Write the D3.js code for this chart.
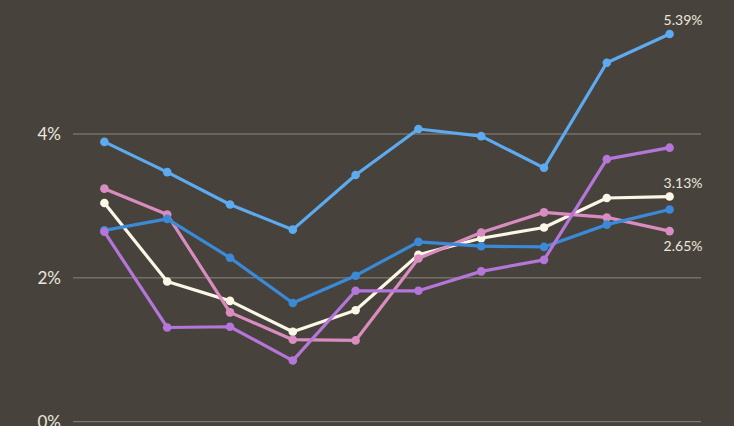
<!DOCTYPE html>
<html><head><meta charset="utf-8">
<script src="https://cdn.jsdelivr.net/npm/d3@7"></script>
<style>
html,body{margin:0;padding:0;background:#47433c;}
svg{display:block;}
</style></head>
<body>
<svg id="chart" width="734" height="426"></svg>
<script>
const periods = ["P1","P2","P3","P4","P5","P6","P7","P8","P9","P10"];
const yTicks = [0, 2, 4];
const lightBlue = [3.89, 3.47, 3.02, 2.67, 3.43, 4.07, 3.97, 3.53, 4.99, 5.39];
const pink      = [3.24, 2.88, 1.52, 1.14, 1.13, 2.27, 2.63, 2.91, 2.84, 2.65];
const cream     = [3.04, 1.95, 1.68, 1.25, 1.55, 2.32, 2.55, 2.70, 3.11, 3.13];
const midBlue   = [2.66, 2.82, 2.28, 1.65, 2.03, 2.50, 2.44, 2.43, 2.74, 2.95];
const purple    = [2.64, 1.31, 1.32, 0.85, 1.82, 1.82, 2.09, 2.25, 3.65, 3.81];

const series = [
  {name:"cream", values: cream, color:"#fbf6e6", label:"3.13%", pos:"above"},
  {name:"pink", values: pink, color:"#d98cc0", label:"2.65%", pos:"below"},
  {name:"midBlue", values: midBlue, color:"#3a8ad8", label:null},
  {name:"purple", values: purple, color:"#b476d9", label:null},
  {name:"lightBlue", values: lightBlue, color:"#5daaf0", label:"5.39%", pos:"above"}
];

const svg = d3.select("#chart");
const x = d3.scalePoint().domain(periods).range([73, 701]).padding(0.5);
const y = d3.scaleLinear().domain([0, 4]).range([421.7, 134]);

svg.append("g").selectAll("line").data(yTicks).join("line")
  .attr("x1", 73).attr("x2", 701)
  .attr("y1", d => y(d)).attr("y2", d => y(d))
  .attr("stroke", "#8a8680").attr("stroke-width", 1);

svg.append("g").selectAll("text").data(yTicks).join("text")
  .attr("x", 61).attr("y", d => y(d) + 6)
  .attr("text-anchor", "end")
  .attr("font-family", "Lato, 'Open Sans', sans-serif")
  .attr("font-size", 17)
  .attr("fill", "#ebe7df")
  .text(d => d + "%");

const line = d3.line().x((d, i) => x(periods[i])).y(d => y(d));

series.forEach(s => {
  const g = svg.append("g");
  g.append("path").attr("d", line(s.values))
    .attr("fill", "none").attr("stroke", s.color)
    .attr("stroke-width", 3.2).attr("stroke-linejoin", "round");
  g.selectAll("circle").data(s.values).join("circle")
    .attr("cx", (d, i) => x(periods[i])).attr("cy", d => y(d))
    .attr("r", 4.3).attr("fill", s.color);
});

series.filter(s => s.label).forEach(s => {
  const last = s.values[s.values.length - 1];
  const px = x(periods[periods.length - 1]);
  const py = y(last);
  svg.append("text")
    .attr("x", px - 6)
    .attr("y", s.pos === "above" ? py - 9 : py + 20)
    .attr("font-family", "Lato, 'Open Sans', sans-serif")
    .attr("font-size", 14)
    .attr("fill", "#ebe7df")
    .text(s.label);
});
</script>
</body></html>
